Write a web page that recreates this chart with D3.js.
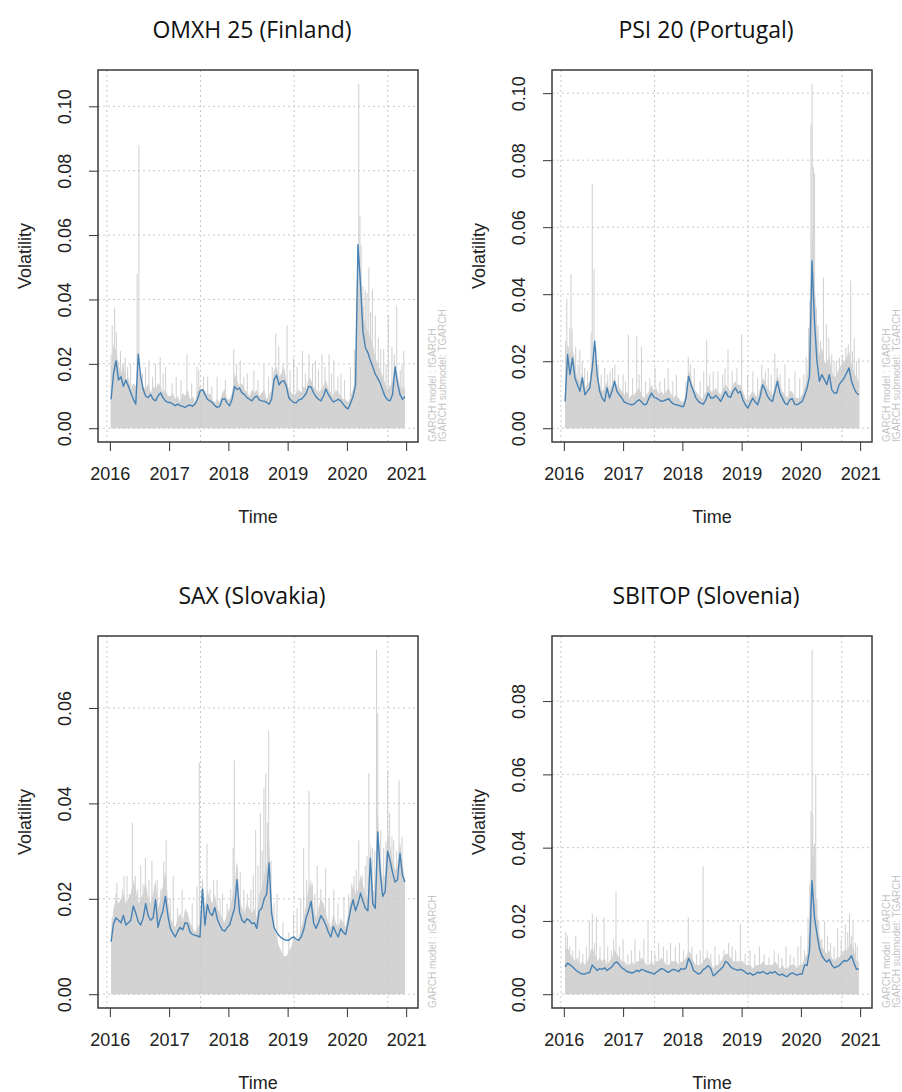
<!DOCTYPE html>
<html>
<head>
<meta charset="utf-8">
<script src="https://cdn.jsdelivr.net/npm/d3@7"></script>
<style>
  body { margin: 0; background: #fff; }
  svg text { font-family: "Liberation Sans", Arial, sans-serif; }
</style>
</head>
<body>
<svg id="chart" width="902" height="1092"></svg>
<script>
// x axis years and grid positions (time)
const years = [2016, 2017, 2018, 2019, 2020, 2021];
const gridYears = [2015.95, 2017.53, 2019.11, 2020.69];

// fitted volatility, two readings per month (Jan 2016 .. Dec 2020)
const omxhVol = [
  0.009, 0.017, 0.021, 0.015, 0.016, 0.013, 0.015, 0.013, 0.011, 0.009, 0.0075, 0.023, 0.016, 0.012, 0.010, 0.0095, 0.0105, 0.009, 0.0085, 0.010, 0.011, 0.0095, 0.0085, 0.008,
  0.008, 0.0075, 0.007, 0.0075, 0.007, 0.0068, 0.0065, 0.007, 0.0072, 0.0068, 0.0075, 0.009, 0.0115, 0.012, 0.0105, 0.009, 0.0085, 0.008, 0.007, 0.0065, 0.0068, 0.009, 0.0092, 0.0078,
  0.007, 0.009, 0.013, 0.012, 0.0125, 0.011, 0.0105, 0.0095, 0.009, 0.0085, 0.0095, 0.010, 0.0088, 0.0085, 0.0084, 0.008, 0.0075, 0.009, 0.015, 0.0165, 0.0135, 0.0145, 0.0148, 0.013,
  0.0094, 0.0086, 0.008, 0.0079, 0.0088, 0.009, 0.0098, 0.0108, 0.013, 0.0128, 0.011, 0.0098, 0.009, 0.0085, 0.010, 0.0122, 0.0105, 0.0092, 0.0082, 0.0085, 0.009, 0.0085, 0.0075, 0.0065,
  0.006, 0.0078, 0.0098, 0.0135, 0.057, 0.045, 0.030, 0.025, 0.0235, 0.021, 0.019, 0.0168, 0.0155, 0.014, 0.0118, 0.0098, 0.0088, 0.0085, 0.0105, 0.019, 0.014, 0.0105, 0.009, 0.0098
];
const psiVol = [
  0.008, 0.022, 0.016, 0.021, 0.015, 0.013, 0.011, 0.015, 0.010, 0.011, 0.012, 0.018, 0.026, 0.016, 0.011, 0.009, 0.008, 0.012, 0.009, 0.011, 0.014, 0.011, 0.010, 0.009,
  0.0078, 0.0075, 0.0072, 0.007, 0.0072, 0.008, 0.0085, 0.0078, 0.007, 0.0072, 0.009, 0.0105, 0.0092, 0.009, 0.0085, 0.008, 0.0082, 0.0085, 0.0088, 0.0078, 0.0072, 0.007, 0.0068, 0.0065,
  0.0065, 0.009, 0.0155, 0.013, 0.011, 0.009, 0.008, 0.0075, 0.0072, 0.0085, 0.0105, 0.009, 0.009, 0.0098, 0.009, 0.008, 0.0095, 0.011, 0.0095, 0.0092, 0.011, 0.012, 0.0105, 0.011,
  0.0085, 0.007, 0.006, 0.0075, 0.009, 0.0078, 0.007, 0.0095, 0.013, 0.0115, 0.0095, 0.0085, 0.008, 0.011, 0.014, 0.0105, 0.009, 0.0075, 0.007, 0.0085, 0.0088, 0.0072, 0.007, 0.0075,
  0.008, 0.0098, 0.012, 0.0155, 0.050, 0.032, 0.020, 0.014, 0.016, 0.0145, 0.013, 0.016, 0.0115, 0.0105, 0.0105, 0.013, 0.014, 0.015, 0.0165, 0.018, 0.014, 0.012, 0.0105, 0.010
];
const saxVol = [
  0.011, 0.0148, 0.016, 0.0155, 0.015, 0.0165, 0.0145, 0.015, 0.0155, 0.0185, 0.017, 0.0152, 0.0145, 0.016, 0.019, 0.0165, 0.0155, 0.016, 0.0198, 0.014, 0.016, 0.0175, 0.0205, 0.0165,
  0.0138, 0.0128, 0.012, 0.0132, 0.014, 0.0135, 0.015, 0.0148, 0.013, 0.0125, 0.0124, 0.0122, 0.012, 0.022, 0.0145, 0.0188, 0.017, 0.0165, 0.0182, 0.0158, 0.0145, 0.0135, 0.0132, 0.014,
  0.0145, 0.0163, 0.018, 0.024, 0.0172, 0.0155, 0.015, 0.0158, 0.0155, 0.0148, 0.015, 0.0138, 0.0175, 0.018, 0.020, 0.021, 0.0275, 0.017, 0.014, 0.013, 0.0123, 0.0118, 0.0115, 0.0113,
  0.0113, 0.0118, 0.012, 0.0115, 0.0113, 0.012, 0.0135, 0.016, 0.0175, 0.0195, 0.015, 0.0138, 0.015, 0.0165, 0.0156, 0.0145, 0.013, 0.012, 0.0142, 0.013, 0.012, 0.0138, 0.013, 0.0125,
  0.015, 0.0178, 0.0198, 0.0175, 0.019, 0.0212, 0.0195, 0.018, 0.0175, 0.0285, 0.019, 0.018, 0.034, 0.0255, 0.0205, 0.0215, 0.030, 0.028, 0.0255, 0.0235, 0.024, 0.0295, 0.025, 0.0235
];
const sbitopVol = [
  0.0075, 0.0085, 0.008, 0.0075, 0.0068, 0.0062, 0.0058, 0.0055, 0.0055, 0.0058, 0.006, 0.008, 0.0072, 0.0065, 0.007, 0.0068, 0.0072, 0.0065, 0.007, 0.0075, 0.0085, 0.0088, 0.008, 0.0072,
  0.0068, 0.0062, 0.006, 0.0058, 0.006, 0.0065, 0.0062, 0.0068, 0.0065, 0.0062, 0.006, 0.0058, 0.0055, 0.006, 0.0065, 0.007, 0.0068, 0.0062, 0.006, 0.0065, 0.0068, 0.0065, 0.0062, 0.007,
  0.0068, 0.0072, 0.0098, 0.0085, 0.0065, 0.006, 0.0055, 0.0058, 0.0068, 0.0072, 0.0078, 0.007, 0.005, 0.0055, 0.0062, 0.0068, 0.0075, 0.009, 0.0085, 0.0075, 0.007, 0.0068, 0.0065, 0.0068,
  0.0065, 0.006, 0.0055, 0.0058, 0.0052, 0.0055, 0.006, 0.0058, 0.0062, 0.0058, 0.0055, 0.006, 0.0058, 0.0062, 0.0055, 0.0052, 0.0055, 0.005, 0.0048, 0.0055, 0.0058, 0.0055, 0.0052, 0.0055,
  0.0055, 0.008, 0.0078, 0.012, 0.031, 0.021, 0.0165, 0.0125, 0.0105, 0.0095, 0.0088, 0.0095, 0.008, 0.0072, 0.0075, 0.0078, 0.0085, 0.0092, 0.009, 0.0095, 0.0105, 0.0085, 0.0068, 0.007
];

// absolute returns: height of the dense gray band, two readings per month
const omxhAbs = [
  0.018, 0.026, 0.024, 0.020, 0.017, 0.020, 0.015, 0.016, 0.012, 0.014, 0.013, 0.018, 0.016, 0.013, 0.012, 0.014, 0.011, 0.013, 0.012, 0.014, 0.013, 0.011, 0.012, 0.010,
  0.010, 0.011, 0.009, 0.010, 0.008, 0.011, 0.010, 0.012, 0.009, 0.010, 0.008, 0.012, 0.013, 0.011, 0.012, 0.010, 0.011, 0.009, 0.008, 0.009, 0.008, 0.011, 0.012, 0.009,
  0.009, 0.011, 0.017, 0.015, 0.013, 0.014, 0.012, 0.011, 0.010, 0.012, 0.011, 0.012, 0.010, 0.011, 0.012, 0.009, 0.010, 0.012, 0.018, 0.019, 0.016, 0.017, 0.019, 0.015,
  0.012, 0.011, 0.010, 0.011, 0.012, 0.011, 0.013, 0.012, 0.016, 0.015, 0.013, 0.012, 0.011, 0.012, 0.013, 0.015, 0.012, 0.011, 0.010, 0.012, 0.011, 0.010, 0.009, 0.009,
  0.008, 0.010, 0.012, 0.016, 0.045, 0.050, 0.036, 0.032, 0.030, 0.028, 0.026, 0.022, 0.020, 0.018, 0.016, 0.014, 0.012, 0.013, 0.015, 0.020, 0.017, 0.013, 0.012, 0.013
];
const psiAbs = [
  0.016, 0.025, 0.022, 0.024, 0.018, 0.015, 0.014, 0.017, 0.012, 0.013, 0.014, 0.020, 0.022, 0.016, 0.013, 0.011, 0.012, 0.014, 0.011, 0.013, 0.015, 0.013, 0.012, 0.011,
  0.010, 0.011, 0.009, 0.010, 0.010, 0.011, 0.012, 0.010, 0.009, 0.010, 0.011, 0.013, 0.011, 0.012, 0.010, 0.011, 0.010, 0.011, 0.012, 0.010, 0.009, 0.010, 0.009, 0.008,
  0.008, 0.011, 0.018, 0.015, 0.012, 0.011, 0.010, 0.009, 0.009, 0.011, 0.013, 0.011, 0.011, 0.012, 0.011, 0.010, 0.012, 0.013, 0.012, 0.011, 0.013, 0.014, 0.013, 0.013,
  0.011, 0.009, 0.008, 0.010, 0.011, 0.010, 0.009, 0.012, 0.015, 0.014, 0.012, 0.011, 0.010, 0.013, 0.016, 0.013, 0.011, 0.010, 0.009, 0.011, 0.011, 0.009, 0.009, 0.009,
  0.010, 0.012, 0.015, 0.030, 0.060, 0.045, 0.030, 0.022, 0.024, 0.020, 0.019, 0.022, 0.017, 0.015, 0.016, 0.018, 0.019, 0.020, 0.021, 0.023, 0.019, 0.017, 0.015, 0.014
];
const saxAbs = [
  0.013, 0.018, 0.020, 0.019, 0.020, 0.021, 0.019, 0.020, 0.021, 0.024, 0.022, 0.019, 0.020, 0.021, 0.024, 0.020, 0.019, 0.021, 0.024, 0.018, 0.020, 0.023, 0.026, 0.020,
  0.016, 0.015, 0.014, 0.016, 0.017, 0.015, 0.018, 0.017, 0.015, 0.014, 0.013, 0.014, 0.015, 0.025, 0.018, 0.022, 0.020, 0.019, 0.021, 0.018, 0.017, 0.016, 0.015, 0.017,
  0.018, 0.020, 0.023, 0.028, 0.020, 0.018, 0.017, 0.019, 0.018, 0.017, 0.018, 0.016, 0.021, 0.022, 0.025, 0.027, 0.032, 0.020, 0.014, 0.012, 0.010, 0.009, 0.008, 0.008,
  0.009, 0.010, 0.012, 0.011, 0.012, 0.014, 0.016, 0.019, 0.022, 0.024, 0.018, 0.016, 0.018, 0.020, 0.019, 0.017, 0.015, 0.014, 0.017, 0.015, 0.014, 0.016, 0.015, 0.014,
  0.017, 0.020, 0.023, 0.021, 0.022, 0.025, 0.023, 0.021, 0.020, 0.032, 0.022, 0.021, 0.038, 0.029, 0.024, 0.025, 0.034, 0.031, 0.028, 0.026, 0.027, 0.032, 0.028, 0.024
];
const sbitopAbs = [
  0.012, 0.013, 0.011, 0.010, 0.009, 0.010, 0.008, 0.009, 0.008, 0.009, 0.011, 0.013, 0.011, 0.009, 0.010, 0.009, 0.010, 0.008, 0.009, 0.010, 0.012, 0.011, 0.010, 0.009,
  0.009, 0.008, 0.008, 0.009, 0.008, 0.009, 0.009, 0.010, 0.009, 0.008, 0.008, 0.009, 0.008, 0.009, 0.009, 0.010, 0.009, 0.008, 0.008, 0.009, 0.009, 0.009, 0.008, 0.009,
  0.009, 0.010, 0.012, 0.011, 0.009, 0.008, 0.008, 0.008, 0.009, 0.010, 0.010, 0.009, 0.007, 0.008, 0.008, 0.009, 0.010, 0.011, 0.011, 0.010, 0.009, 0.009, 0.009, 0.009,
  0.009, 0.008, 0.008, 0.008, 0.007, 0.008, 0.008, 0.008, 0.009, 0.008, 0.008, 0.008, 0.008, 0.009, 0.008, 0.007, 0.008, 0.007, 0.007, 0.008, 0.008, 0.008, 0.007, 0.008,
  0.008, 0.010, 0.011, 0.020, 0.045, 0.035, 0.022, 0.016, 0.013, 0.012, 0.011, 0.012, 0.010, 0.009, 0.010, 0.010, 0.011, 0.012, 0.012, 0.013, 0.014, 0.012, 0.009, 0.009
];

// single larger absolute returns [time, value]
const omxhSpikes = [
  [2016.02, 0.023], [2016.04, 0.032], [2016.08, 0.0375], [2016.11, 0.030], [2016.14, 0.021], [2016.18, 0.024],
  [2016.22, 0.020], [2016.26, 0.022], [2016.30, 0.019], [2016.35, 0.020], [2016.46, 0.048], [2016.49, 0.088],
  [2016.55, 0.017], [2016.60, 0.019], [2016.66, 0.021], [2016.72, 0.016], [2016.77, 0.020], [2016.85, 0.022],
  [2016.90, 0.017], [2016.94, 0.019], [2017.05, 0.014], [2017.12, 0.016], [2017.20, 0.015], [2017.30, 0.0228],
  [2017.38, 0.014], [2017.47, 0.019], [2017.50, 0.018], [2017.58, 0.016], [2017.65, 0.016], [2017.72, 0.013],
  [2017.81, 0.016], [2017.95, 0.015], [2018.09, 0.0245], [2018.14, 0.020], [2018.20, 0.021], [2018.26, 0.016],
  [2018.32, 0.017], [2018.43, 0.018], [2018.50, 0.015], [2018.60, 0.020], [2018.68, 0.016], [2018.74, 0.019],
  [2018.80, 0.0295], [2018.85, 0.0255], [2018.92, 0.020], [2018.99, 0.032], [2019.04, 0.018], [2019.10, 0.022],
  [2019.16, 0.019], [2019.25, 0.024], [2019.30, 0.017], [2019.36, 0.023], [2019.42, 0.020], [2019.47, 0.021],
  [2019.52, 0.018], [2019.58, 0.023], [2019.63, 0.019], [2019.70, 0.023], [2019.74, 0.017], [2019.78, 0.021],
  [2019.85, 0.016], [2019.90, 0.017], [2019.96, 0.015], [2020.06, 0.019], [2020.13, 0.0245], [2020.16, 0.040],
  [2020.18, 0.057], [2020.20, 0.107], [2020.22, 0.066], [2020.24, 0.057], [2020.27, 0.044], [2020.28, 0.038],
  [2020.31, 0.043], [2020.34, 0.042], [2020.37, 0.050], [2020.40, 0.036], [2020.43, 0.043], [2020.48, 0.035],
  [2020.53, 0.028], [2020.57, 0.0245], [2020.62, 0.0245], [2020.66, 0.020], [2020.70, 0.035], [2020.76, 0.0255],
  [2020.80, 0.023], [2020.84, 0.038], [2020.90, 0.018], [2020.93, 0.020], [2020.96, 0.024]
];
const psiSpikes = [
  [2016.03, 0.026], [2016.05, 0.0386], [2016.07, 0.0244], [2016.10, 0.030], [2016.12, 0.046], [2016.14, 0.0297],
  [2016.17, 0.022], [2016.20, 0.0244], [2016.24, 0.019], [2016.27, 0.0234], [2016.31, 0.020], [2016.35, 0.018],
  [2016.40, 0.017], [2016.46, 0.0286], [2016.48, 0.0728], [2016.51, 0.0476], [2016.54, 0.024], [2016.58, 0.019],
  [2016.63, 0.016], [2016.69, 0.018], [2016.74, 0.016], [2016.78, 0.017], [2016.82, 0.018], [2016.86, 0.019],
  [2016.92, 0.016], [2017.00, 0.016], [2017.04, 0.014], [2017.09, 0.028], [2017.16, 0.015], [2017.23, 0.0276],
  [2017.27, 0.016], [2017.31, 0.0244], [2017.38, 0.014], [2017.45, 0.015], [2017.54, 0.018], [2017.62, 0.014],
  [2017.70, 0.015], [2017.76, 0.018], [2017.84, 0.014], [2017.90, 0.016], [2018.06, 0.014], [2018.10, 0.0213],
  [2018.14, 0.019], [2018.20, 0.018], [2018.30, 0.014], [2018.36, 0.017], [2018.41, 0.0265], [2018.46, 0.016],
  [2018.52, 0.017], [2018.60, 0.017], [2018.68, 0.016], [2018.72, 0.018], [2018.77, 0.0234], [2018.84, 0.017],
  [2018.92, 0.018], [2019.00, 0.028], [2019.10, 0.016], [2019.19, 0.017], [2019.27, 0.015], [2019.34, 0.019],
  [2019.40, 0.017], [2019.45, 0.018], [2019.50, 0.016], [2019.56, 0.0223], [2019.60, 0.018], [2019.65, 0.016],
  [2019.73, 0.019], [2019.80, 0.015], [2019.90, 0.017], [2019.98, 0.015], [2020.05, 0.016], [2020.09, 0.0213],
  [2020.13, 0.030], [2020.15, 0.038], [2020.17, 0.0907], [2020.19, 0.1028], [2020.21, 0.078], [2020.23, 0.076],
  [2020.26, 0.036], [2020.29, 0.0307], [2020.33, 0.026], [2020.38, 0.045], [2020.43, 0.031], [2020.47, 0.027],
  [2020.52, 0.022], [2020.56, 0.020], [2020.60, 0.020], [2020.65, 0.021], [2020.70, 0.022], [2020.76, 0.024],
  [2020.80, 0.025], [2020.84, 0.044], [2020.87, 0.023], [2020.90, 0.027], [2020.94, 0.020], [2020.98, 0.021]
];
const saxSpikes = [
  [2016.04, 0.016], [2016.07, 0.0174], [2016.10, 0.021], [2016.12, 0.0233], [2016.15, 0.018], [2016.18, 0.019],
  [2016.21, 0.022], [2016.24, 0.0248], [2016.29, 0.0248], [2016.33, 0.021], [2016.38, 0.036], [2016.43, 0.0248],
  [2016.47, 0.022], [2016.52, 0.027], [2016.56, 0.023], [2016.60, 0.0285], [2016.66, 0.024], [2016.71, 0.028],
  [2016.76, 0.023], [2016.80, 0.024], [2016.86, 0.022], [2016.91, 0.0278], [2016.95, 0.0322], [2017.02, 0.020],
  [2017.07, 0.0248], [2017.14, 0.018], [2017.22, 0.0219], [2017.30, 0.017], [2017.39, 0.019], [2017.47, 0.0226],
  [2017.51, 0.0485], [2017.56, 0.024], [2017.64, 0.0315], [2017.69, 0.022], [2017.75, 0.024], [2017.81, 0.024],
  [2017.86, 0.020], [2017.90, 0.021], [2017.98, 0.019], [2018.04, 0.022], [2018.08, 0.0307], [2018.10, 0.049],
  [2018.15, 0.027], [2018.20, 0.0256], [2018.26, 0.022], [2018.32, 0.021], [2018.38, 0.022], [2018.42, 0.025],
  [2018.46, 0.0344], [2018.50, 0.027], [2018.54, 0.038], [2018.57, 0.030], [2018.60, 0.0433], [2018.63, 0.0463],
  [2018.66, 0.036], [2018.68, 0.0552], [2018.72, 0.028], [2018.77, 0.019], [2018.82, 0.021], [2018.92, 0.015],
  [2019.02, 0.013], [2019.10, 0.0167], [2019.16, 0.018], [2019.22, 0.020], [2019.27, 0.0307], [2019.32, 0.024],
  [2019.36, 0.0426], [2019.42, 0.023], [2019.46, 0.021], [2019.50, 0.027], [2019.56, 0.022], [2019.64, 0.0263],
  [2019.70, 0.020], [2019.78, 0.0219], [2019.85, 0.019], [2019.95, 0.0204], [2020.03, 0.021], [2020.08, 0.023],
  [2020.12, 0.0248], [2020.16, 0.026], [2020.20, 0.0322], [2020.26, 0.025], [2020.31, 0.027], [2020.34, 0.029],
  [2020.37, 0.0463], [2020.43, 0.0307], [2020.47, 0.030], [2020.50, 0.0722], [2020.52, 0.0589], [2020.57, 0.0344],
  [2020.62, 0.0307], [2020.66, 0.032], [2020.69, 0.047], [2020.72, 0.038], [2020.76, 0.033], [2020.79, 0.0322],
  [2020.84, 0.030], [2020.88, 0.0448], [2020.93, 0.033], [2020.97, 0.024]
];
const sbitopSpikes = [
  [2016.03, 0.017], [2016.06, 0.016], [2016.10, 0.013], [2016.15, 0.012], [2016.20, 0.016], [2016.26, 0.012],
  [2016.32, 0.011], [2016.38, 0.013], [2016.43, 0.020], [2016.48, 0.022], [2016.52, 0.014], [2016.55, 0.021],
  [2016.61, 0.013], [2016.68, 0.021], [2016.74, 0.013], [2016.80, 0.012], [2016.84, 0.015], [2016.88, 0.028],
  [2016.94, 0.013], [2017.00, 0.015], [2017.08, 0.011], [2017.14, 0.012], [2017.20, 0.015], [2017.28, 0.012],
  [2017.35, 0.015], [2017.42, 0.020], [2017.48, 0.012], [2017.54, 0.011], [2017.60, 0.014], [2017.68, 0.013],
  [2017.74, 0.012], [2017.80, 0.014], [2017.88, 0.013], [2017.95, 0.014], [2018.02, 0.012], [2018.10, 0.021],
  [2018.16, 0.013], [2018.24, 0.011], [2018.30, 0.012], [2018.35, 0.035], [2018.42, 0.012], [2018.48, 0.011],
  [2018.55, 0.013], [2018.62, 0.011], [2018.70, 0.012], [2018.78, 0.014], [2018.84, 0.013], [2018.90, 0.012],
  [2018.98, 0.019], [2019.06, 0.011], [2019.14, 0.012], [2019.22, 0.011], [2019.30, 0.013], [2019.38, 0.011],
  [2019.46, 0.010], [2019.55, 0.012], [2019.62, 0.011], [2019.68, 0.010], [2019.75, 0.013], [2019.82, 0.011],
  [2019.88, 0.010], [2019.95, 0.013], [2020.00, 0.016], [2020.06, 0.012], [2020.12, 0.021], [2020.15, 0.030],
  [2020.17, 0.050], [2020.19, 0.094], [2020.20, 0.049], [2020.22, 0.037], [2020.23, 0.041], [2020.25, 0.060],
  [2020.27, 0.026], [2020.30, 0.020], [2020.35, 0.015], [2020.40, 0.020], [2020.45, 0.016], [2020.50, 0.014],
  [2020.56, 0.013], [2020.62, 0.018], [2020.68, 0.015], [2020.75, 0.019], [2020.79, 0.017], [2020.82, 0.022],
  [2020.85, 0.016], [2020.88, 0.020], [2020.92, 0.014], [2020.95, 0.013]
];

const ticksTo10 = [0, 0.02, 0.04, 0.06, 0.08, 0.10];
const ticksTo06 = [0, 0.02, 0.04, 0.06];
const ticksTo08 = [0, 0.02, 0.04, 0.06, 0.08];

const panels = [
  { title: "OMXH 25 (Finland)", vol: omxhVol, abs: omxhAbs, spikes: omxhSpikes, yTicks: ticksTo10,
    note: ["GARCH model : fGARCH", "fGARCH submodel: TGARCH"] },
  { title: "PSI 20 (Portugal)", vol: psiVol, abs: psiAbs, spikes: psiSpikes, yTicks: ticksTo10,
    note: ["GARCH model : fGARCH", "fGARCH submodel: TGARCH"] },
  { title: "SAX (Slovakia)", vol: saxVol, abs: saxAbs, spikes: saxSpikes, yTicks: ticksTo06,
    note: ["GARCH model : iGARCH"] },
  { title: "SBITOP (Slovenia)", vol: sbitopVol, abs: sbitopAbs, spikes: sbitopSpikes, yTicks: ticksTo08,
    note: ["GARCH model : fGARCH", "fGARCH submodel: TGARCH"] }
];

const BOX_LEFT = [98, 552];
const BOX_TOP = [70, 636];
const BOX_W = 320;
const BOX_H = 372;
const GRAY = "#d3d3d3";
const BLUE = "#4682b4";

const svg = d3.select("#chart");

function drawPanel(p, i) {
  const left = BOX_LEFT[i % 2];
  const top = BOX_TOP[Math.floor(i / 2)];
  const bottom = top + BOX_H;
  const g = svg.append("g");

  const x = d3.scaleLinear().domain([2015.8, 2021.2]).range([left, left + BOX_W]);
  const m = Math.max(d3.max(p.abs), d3.max(p.spikes, d => d[1]));
  const y = d3.scaleLinear().domain([-0.04 * m, 1.04 * m]).range([bottom, top]);

  const volT = p.vol.map((_, k) => 2016 + (k + 0.5) / 24);
  const absT = p.abs.map((_, k) => 2016 + (k + 0.5) / 24);

  // gray absolute returns
  g.append("path")
    .datum(p.abs)
    .attr("fill", GRAY)
    .attr("d", d3.area()
      .x((d, k) => x(absT[k]))
      .y0(y(0))
      .y1(d => y(d)));

  g.selectAll(".spike")
    .data(p.spikes)
    .join("line")
    .attr("x1", d => x(d[0]))
    .attr("x2", d => x(d[0]))
    .attr("y1", y(0))
    .attr("y2", d => y(d[1]))
    .attr("stroke", GRAY)
    .attr("stroke-width", 1.1);

  // grid
  g.selectAll(".hgrid")
    .data(p.yTicks)
    .join("line")
    .attr("x1", left).attr("x2", left + BOX_W)
    .attr("y1", d => y(d)).attr("y2", d => y(d))
    .attr("stroke", "#c8c8c8").attr("stroke-dasharray", "2,3");
  g.selectAll(".vgrid")
    .data(gridYears)
    .join("line")
    .attr("x1", d => x(d)).attr("x2", d => x(d))
    .attr("y1", top).attr("y2", bottom)
    .attr("stroke", "#c8c8c8").attr("stroke-dasharray", "2,3");

  // blue volatility
  g.append("path")
    .datum(p.vol)
    .attr("fill", "none")
    .attr("stroke", BLUE)
    .attr("stroke-width", 1.4)
    .attr("stroke-linejoin", "round")
    .attr("d", d3.line()
      .x((d, k) => x(volT[k]))
      .y(d => y(d)));

  // box
  g.append("rect")
    .attr("x", left).attr("y", top)
    .attr("width", BOX_W).attr("height", BOX_H)
    .attr("fill", "none").attr("stroke", "#3a3a3a").attr("stroke-width", 1.5);

  // y axis
  const ya = g.append("g")
    .attr("transform", `translate(${left},0)`)
    .style("color", "#333")
    .call(d3.axisLeft(y).tickValues(p.yTicks).tickFormat(d3.format(".2f")).tickSize(9));
  ya.select(".domain").remove();
  ya.selectAll("text")
    .attr("x", null).attr("dy", null)
    .attr("y", -27)
    .attr("transform", "rotate(-90)")
    .attr("text-anchor", "middle")
    .attr("fill", "#222")
    .style("font-size", "18px");

  // x axis
  const xa = g.append("g")
    .attr("transform", `translate(0,${bottom})`)
    .style("color", "#333")
    .call(d3.axisBottom(x).tickValues(years).tickFormat(d3.format("d")).tickSize(9).tickPadding(16));
  xa.select(".domain").remove();
  xa.selectAll("text").attr("fill", "#222").style("font-size", "18px");

  // labels
  g.append("text")
    .attr("x", left + BOX_W / 2).attr("y", bottom + 81)
    .attr("text-anchor", "middle").attr("fill", "#222")
    .style("font-size", "18px").text("Time");
  g.append("text")
    .attr("transform", `translate(${left - 67},${top + BOX_H / 2}) rotate(-90)`)
    .attr("text-anchor", "middle").attr("fill", "#222")
    .style("font-size", "18px").text("Volatility");
  g.append("text")
    .attr("x", left + 154).attr("y", top - 32)
    .attr("text-anchor", "middle").attr("fill", "#111")
    .style("font-family", "'Open Sans', sans-serif")
    .style("font-size", "23px").text(p.title);

  // model note on the right margin
  p.note.forEach((s, k) => {
    g.append("text")
      .attr("transform", `translate(${left + BOX_W + 18 + k * 10},${bottom}) rotate(-90)`)
      .attr("fill", "#c4c4c4")
      .style("font-size", "10px")
      .text(s);
  });
}

panels.forEach(drawPanel);
</script>
</body>
</html>
